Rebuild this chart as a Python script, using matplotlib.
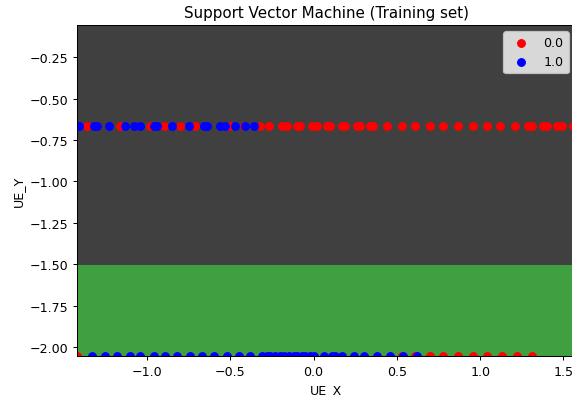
import numpy as np
import matplotlib
matplotlib.use('Agg')
import matplotlib.pyplot as plt
from matplotlib.colors import ListedColormap

# training points (standardised UE position)
row_top_y = -0.663
row_bottom_y = -2.055

top_red_x = [-1.36, -1.30, -1.16, -0.98, -0.90, -0.80, -0.71, -0.50, -0.42, -0.32,
             -0.27, -0.19, -0.16, -0.10, -0.08, -0.01, 0.02, 0.08, 0.10, 0.17,
             0.19, 0.26, 0.28, 0.34, 0.36, 0.44, 0.53, 0.61, 0.70, 0.78,
             0.87, 0.96, 1.04, 1.12, 1.21, 1.29, 1.31, 1.38, 1.40, 1.46,
             1.49, 1.56]
top_blue_x = [-1.41, -1.32, -1.30, -1.23, -1.13, -1.08, -1.04, -0.96, -0.94, -0.85,
              -0.75, -0.66, -0.64, -0.56, -0.53, -0.47, -0.41, -0.36]

bottom_red_x = [-1.42, 0.53, 0.61, 0.70, 0.78, 0.87, 0.96, 1.04, 1.13, 1.22, 1.31]
bottom_blue_x = [-1.33, -1.25, -1.18, -1.10, -1.04, -0.96, -0.89, -0.82, -0.74, -0.67,
                 -0.60, -0.52, -0.45, -0.38, -0.31, -0.28, -0.26, -0.23, -0.20, -0.18,
                 -0.15, -0.12, -0.10, -0.07, -0.05, -0.02, 0.00, 0.06, 0.11, 0.13,
                 0.17, 0.24, 0.30, 0.38, 0.46, 0.54, 0.62]

boundary_y = -1.505  # decision boundary of the fitted classifier
class_labels = [0.0, 1.0]

X_set = np.array([[x, row_top_y] for x in top_red_x + top_blue_x] +
                 [[x, row_bottom_y] for x in bottom_red_x + bottom_blue_x])
y_set = np.array([0.0] * len(top_red_x) + [1.0] * len(top_blue_x) +
                 [0.0] * len(bottom_red_x) + [1.0] * len(bottom_blue_x))

dpi = 91
fig = plt.figure(figsize=(572 / dpi, 397 / dpi), dpi=dpi)
ax = fig.add_axes([0.1351, 0.1008, 0.8701, 0.8345])

X1, X2 = np.meshgrid(np.arange(-1.5, 1.7, 0.01), np.arange(-2.2, 0.1, 0.01))
pred = (X2 < boundary_y).astype(float)
ax.contourf(X1, X2, pred, alpha=0.75, cmap=ListedColormap(('black', 'green')))

ax.set_xlim(-1.419, 1.57)
ax.set_ylim(row_bottom_y, -0.0526)

for i, j in enumerate(class_labels):
    ax.scatter(X_set[y_set == j, 0], X_set[y_set == j, 1],
               c=ListedColormap(('red', 'blue'))(i), label=j)

ax.set_title('Support Vector Machine (Training set)')
ax.set_xlabel('UE_X')
ax.set_ylabel('UE_Y')
ax.legend(loc='upper right')

fig.savefig('out.png', dpi=dpi)
